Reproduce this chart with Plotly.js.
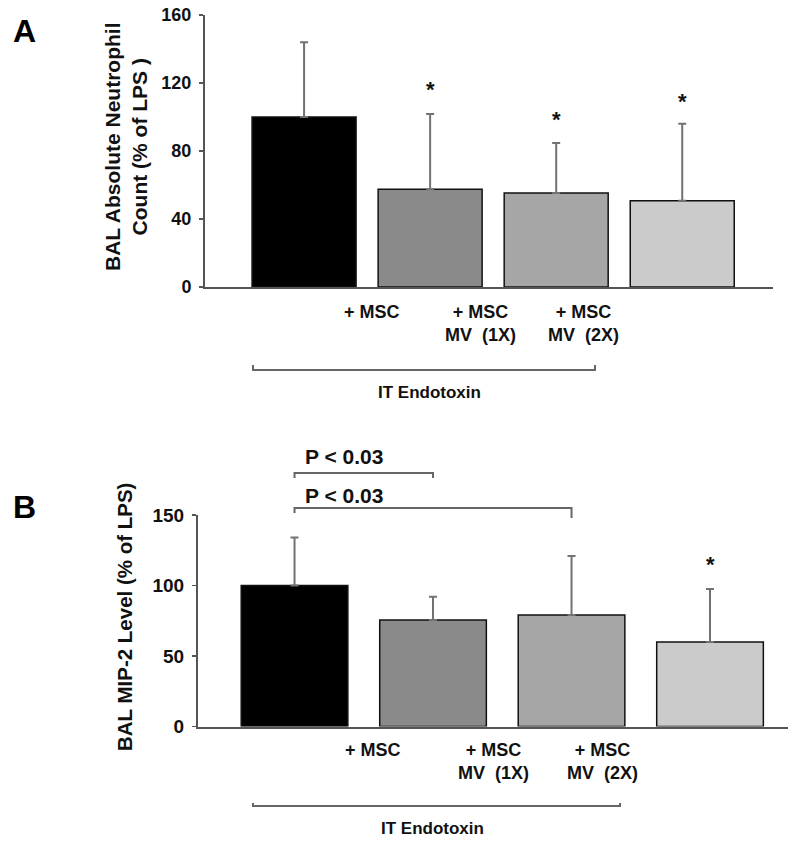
<!DOCTYPE html>
<html>
<head>
<meta charset="utf-8">
<script src="https://cdn.plot.ly/plotly-3.0.1.min.js"></script>
<style>html,body{margin:0;padding:0;background:#fff;} #chart{width:800px;height:843px;}</style>
</head>
<body>
<div id="chart"></div>
<script>
// ---------- DATA ----------
const groups = ['LPS', 'LPS + MSC', 'LPS + MSC MV (1X)', 'LPS + MSC MV (2X)'];
const groupLabels = ['', '+ MSC', '+ MSC<br>MV \u00a0(1X)', '+ MSC<br>MV \u00a0(2X)'];
const neutMean = [100, 57.5, 55.3, 50.8];
const neutErr = [44, 44.2, 29.4, 45.2];
const neutStar = [null, 117.5, 100, 110.5];
const mipMean = [100, 75.5, 79, 60];
const mipErr = [34, 16.5, 42, 37.5];
const mipStar = [null, null, null, 116];
const panelA_yTicks = [0, 40, 80, 120, 160];
const panelB_yTicks = [0, 50, 100, 150];
const barColors = ['#000000', '#8a8a8a', '#a6a6a6', '#cbcbcb'];

// ---------- LAYOUT HELPERS ----------
const W = 800, H = 843;
const px = x => x / W;
const py = y => 1 - y / H;
const FONT = 'Liberation Sans, Arial, Helvetica, sans-serif';
const idx = groups.map((g, i) => i);

function barTrace(vals, errs, xa, ya, width) {
  return {
    type: 'bar', x: idx, y: vals, xaxis: xa, yaxis: ya, width: width,
    marker: {color: barColors, line: {color: '#111', width: 1.5}},
    error_y: {type: 'data', array: errs, arrayminus: errs.map(() => 0), symmetric: false,
              color: '#727272', thickness: 2, width: 4},
    hoverinfo: 'skip', showlegend: false
  };
}

const traces = [
  barTrace(neutMean, neutErr, 'x', 'y', 0.825),
  barTrace(mipMean, mipErr, 'x2', 'y2', 0.77)
];

const axisLine = {showline: true, linecolor: '#555', linewidth: 2, zeroline: false, showgrid: false};
const tickFont = {family: FONT, size: 18, color: '#111', weight: 700};

const annotations = [];
function ann(o) { annotations.push(Object.assign({showarrow: false, font: {family: FONT, size: 18, color: '#111', weight: 700}}, o)); }

// panel letters
ann({xref: 'paper', yref: 'paper', x: px(24), y: py(31), text: 'A', font: {family: FONT, size: 32, color: '#000', weight: 700}, xanchor: 'center', yanchor: 'middle'});
ann({xref: 'paper', yref: 'paper', x: px(24), y: py(507), text: 'B', font: {family: FONT, size: 32, color: '#000', weight: 700}, xanchor: 'center', yanchor: 'middle'});

// y titles
ann({xref: 'paper', yref: 'paper', x: px(126), y: py(147), textangle: -90, text: 'BAL Absolute Neutrophil<br>Count (% of LPS )', xanchor: 'center', yanchor: 'middle', font: {family: FONT, size: 21, color: '#111', weight: 700}});
ann({xref: 'paper', yref: 'paper', x: px(124), y: py(617), textangle: -90, text: 'BAL MIP-2 Level (% of LPS)', xanchor: 'center', yanchor: 'middle', font: {family: FONT, size: 20.5, color: '#111', weight: 700}});

// category labels (offset to the left of bars as in the figure)
const labelXA = [null, 372, 480, 583];
const labelXB = [null, 373, 493, 602];
groupLabels.forEach((t, i) => {
  if (!t) return;
  ann({xref: 'paper', yref: 'paper', x: px(labelXA[i]), y: py(300), text: t, xanchor: 'center', yanchor: 'top'});
  ann({xref: 'paper', yref: 'paper', x: px(labelXB[i]), y: py(738), text: t, xanchor: 'center', yanchor: 'top'});
});

// stars
neutStar.forEach((s, i) => { if (s != null) ann({xref: 'x', yref: 'y', x: i, y: s, text: '*', yanchor: 'middle', yshift: -2, font: {family: FONT, size: 22, color: '#111', weight: 700}}); });
mipStar.forEach((s, i) => { if (s != null) ann({xref: 'x2', yref: 'y2', x: i, y: s, text: '*', yanchor: 'middle', yshift: -2, font: {family: FONT, size: 22, color: '#111', weight: 700}}); });

// IT Endotoxin
ann({xref: 'paper', yref: 'paper', x: px(429), y: py(392), text: 'IT Endotoxin', xanchor: 'center', yanchor: 'middle', font: {family: FONT, size: 17, color: '#111', weight: 700}});
ann({xref: 'paper', yref: 'paper', x: px(432), y: py(828), text: 'IT Endotoxin', xanchor: 'center', yanchor: 'middle', font: {family: FONT, size: 17, color: '#111', weight: 700}});

// P values
ann({xref: 'paper', yref: 'paper', x: px(344), y: py(456), text: 'P < 0.03', xanchor: 'center', yanchor: 'middle', font: {family: FONT, size: 21, color: '#111', weight: 700}});
ann({xref: 'paper', yref: 'paper', x: px(344), y: py(495), text: 'P < 0.03', xanchor: 'center', yanchor: 'middle', font: {family: FONT, size: 21, color: '#111', weight: 700}});

const lineStyle = {color: '#666', width: 2};
const shapes = [];
function path(d) { shapes.push({type: 'path', xref: 'paper', yref: 'paper', path: d, line: lineStyle}); }
function P(x, y) { return (x / W) + ',' + (1 - y / H); }
// bottom brackets
path('M' + P(253, 365) + ' L' + P(253, 370) + ' L' + P(595, 370) + ' L' + P(595, 365));
path('M' + P(253, 803) + ' L' + P(253, 806) + ' L' + P(620, 806) + ' L' + P(620, 803));
// significance brackets (between bar centres of panel B)
shapes.push({type: 'path', xref: 'x2', yref: 'paper', path: 'M0,' + py(478) + ' L0,' + py(473) + ' L1,' + py(473) + ' L1,' + py(478), line: lineStyle});
shapes.push({type: 'path', xref: 'x2', yref: 'paper', path: 'M0,' + py(513) + ' L0,' + py(508) + ' L2,' + py(508) + ' L2,' + py(518), line: lineStyle});

const layout = {
  width: W, height: H,
  margin: {l: 0, r: 0, t: 0, b: 0},
  paper_bgcolor: '#fff', plot_bgcolor: 'rgba(0,0,0,0)',
  showlegend: false,
  xaxis: Object.assign({}, axisLine, {domain: [px(205), px(773)], range: [-0.786, 3.72], anchor: 'y', showticklabels: false, ticks: '', fixedrange: true}),
  yaxis: Object.assign({}, axisLine, {domain: [py(287), py(15)], range: [0, 160], anchor: 'x', tickvals: panelA_yTicks, ticks: 'outside', ticklen: 4, tickwidth: 1.5, tickcolor: '#555', tickfont: tickFont, ticklabelstandoff: 4}),
  xaxis2: Object.assign({}, axisLine, {domain: [px(198), px(788)], range: [-0.697, 3.563], anchor: 'y2', showticklabels: false, ticks: '', fixedrange: true}),
  yaxis2: Object.assign({}, axisLine, {domain: [py(726.5), py(515)], range: [0, 150], anchor: 'x2', tickvals: panelB_yTicks, ticks: 'outside', ticklen: 4, tickwidth: 1.5, tickcolor: '#555', tickfont: Object.assign({}, tickFont, {size: 19}), ticklabelstandoff: 4}),
  annotations: annotations,
  shapes: shapes
};

Plotly.newPlot('chart', traces, layout, {staticPlot: true, displayModeBar: false});
</script>
</body>
</html>
